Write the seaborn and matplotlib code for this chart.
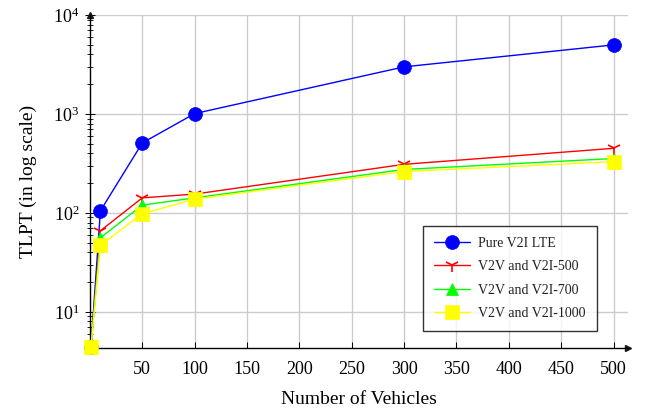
import numpy as np
import pandas as pd
import matplotlib
matplotlib.use("Agg")
import matplotlib.pyplot as plt
import seaborn as sns
from matplotlib.ticker import LogLocator, NullFormatter

vehicles = [1, 10, 50, 100, 300, 500]
pure_v2i = [4.4, 105, 510, 1010, 3000, 5000]
v2v_500 = [4.4, 66, 142, 155, 310, 450]
v2v_700 = [4.4, 56, 120, 142, 275, 355]
v2v_1000 = [4.4, 47, 98, 138, 262, 330]

series_names = ["Pure V2I LTE", "V2V and V2I-500", "V2V and V2I-700", "V2V and V2I-1000"]
series_vals = [pure_v2i, v2v_500, v2v_700, v2v_1000]
colors = ["#0000ff", "#ff0000", "#00ff00", "#ffff00"]
markers = ["o", "1", "^", "s"]
msizes = [10, 10, 9, 10]

sns.set_theme(style="white")
plt.rcParams["font.family"] = ["Liberation Serif", "DejaVu Serif"]
plt.rcParams["mathtext.fontset"] = "custom"
plt.rcParams["mathtext.rm"] = "Liberation Serif"
plt.rcParams["mathtext.it"] = "Liberation Serif:italic"

fig = plt.figure(figsize=(6.47, 4.09), dpi=100)
ax = fig.add_axes([0.139, 0.149, 0.832, 0.814])

for name, vals, c, m, ms in zip(series_names, series_vals, colors, markers, msizes):
    df = pd.DataFrame({"x": vehicles, "y": vals})
    sns.lineplot(data=df, x="x", y="y", ax=ax, color=c, marker=m, markersize=ms,
                 markeredgecolor=c, markeredgewidth=1.2 if m == "1" else 0.5,
                 linewidth=1.0, label=name, clip_on=False, zorder=3)

ax.set_yscale("log")
ax.set_xlim(0, 514)
ax.set_ylim(4.3, 1e4)
ax.set_xticks([50, 100, 150, 200, 250, 300, 350, 400, 450, 500])
ax.yaxis.set_major_locator(LogLocator(base=10, numticks=10))
ax.yaxis.set_minor_locator(LogLocator(base=10, subs=np.arange(2, 10), numticks=20))
ax.yaxis.set_minor_formatter(NullFormatter())
ax.grid(True, which="major", color="#cccccc", linewidth=1.0)
ax.set_axisbelow(True)
for s in ["top", "right"]:
    ax.spines[s].set_visible(False)
for s in ["left", "bottom"]:
    ax.spines[s].set_color("black")
    ax.spines[s].set_linewidth(1.0)
ax.tick_params(axis="both", which="both", colors="black", labelsize=13)
ax.tick_params(axis="x", which="major", direction="in", length=4, width=0.7, pad=9, bottom=True)
ax.tick_params(axis="y", which="major", direction="inout", length=7, width=0.7, pad=4, left=True)
ax.tick_params(axis="y", which="minor", direction="inout", length=5, width=0.6, left=True)

ax.plot(1, 0, ">k", markersize=5, transform=ax.transAxes, clip_on=False)
ax.plot(0, 1, "^k", markersize=5, transform=ax.transAxes, clip_on=False)

ax.set_xlabel("Number of Vehicles", fontsize=14, color="black", labelpad=10)
ax.set_ylabel("TLPT (in log scale)", fontsize=14, color="black", labelpad=12)

leg = ax.legend(loc="lower right", bbox_to_anchor=(0.955, 0.03), fontsize=10,
                frameon=True, fancybox=False, edgecolor="black", labelspacing=0.75,
                handlelength=2.6, handletextpad=0.6, borderpad=0.8)
leg.get_frame().set_linewidth(1.0)
for t in leg.get_texts():
    t.set_color("#222222")

fig.savefig("out.png", dpi=100)
